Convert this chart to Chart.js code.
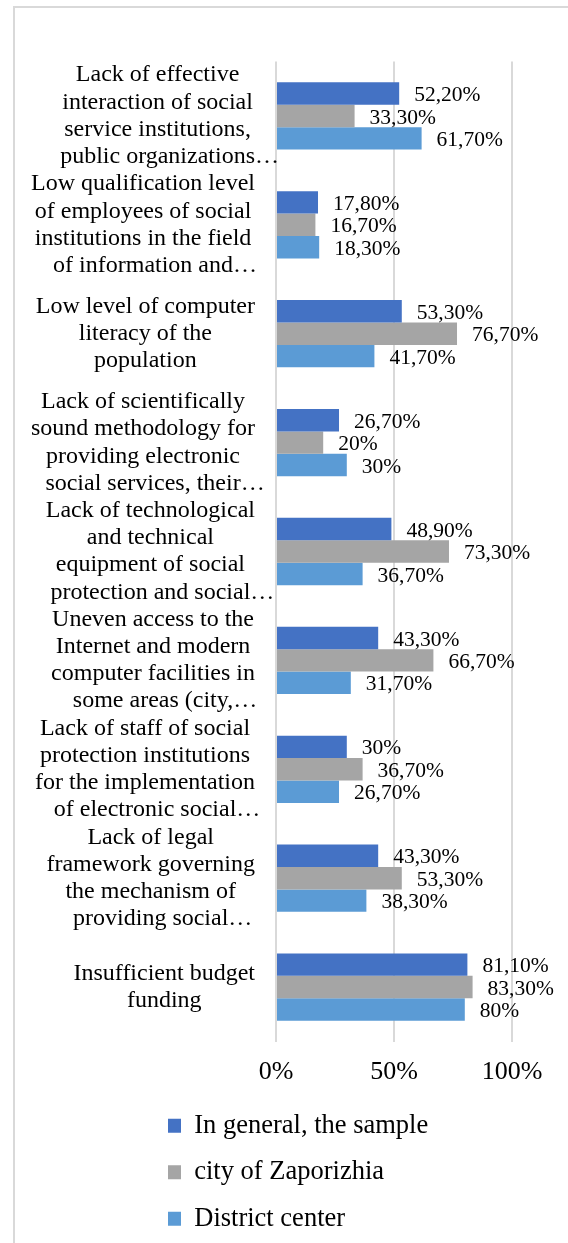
<!DOCTYPE html>
<html>
<head>
<meta charset="utf-8">
<script src="https://cdn.jsdelivr.net/npm/chart.js@4.4.1/dist/chart.umd.min.js"></script>
<style>
  html, body { margin: 0; padding: 0; background: #fff; overflow: hidden; }
  #frame { position: absolute; left: 13px; top: 6px; width: 620px; height: 1300px; box-sizing: border-box; border: 2px solid #d9d9d9; }
  #c { position: absolute; left: 0; top: 0; }
</style>
</head>
<body>
<div id="frame"></div>
<canvas id="c" width="568" height="1243"></canvas>
<script>
const categories = [
  ["Lack of effective", "interaction of social", "service institutions,", "public organizations…"],
  ["Low qualification level", "of employees of social", "institutions in the field", "of information and…"],
  ["Low level of computer", "literacy of the", "population"],
  ["Lack of scientifically", "sound methodology for", "providing electronic", "social services, their…"],
  ["Lack of technological", "and technical", "equipment of social", "protection and social…"],
  ["Uneven access to the", "Internet and modern", "computer facilities in", "some areas (city,…"],
  ["Lack of staff of social", "protection institutions", "for the implementation", "of electronic social…"],
  ["Lack of legal", "framework governing", "the mechanism of", "providing social…"],
  ["Insufficient budget", "funding"]
];
const seriesNames = ["In general, the sample", "city of Zaporizhia", "District center"];
const sampleValues = [52.2, 17.8, 53.3, 26.7, 48.9, 43.3, 30, 43.3, 81.1];
const zaporizhiaValues = [33.3, 16.7, 76.7, 20, 73.3, 66.7, 36.7, 53.3, 83.3];
const districtValues = [61.7, 18.3, 41.7, 30, 36.7, 31.7, 26.7, 38.3, 80];
const xTickValues = [0, 50, 100];

const FONT = '"Liberation Serif", "Times New Roman", serif';
const seriesColors = ['#4472C4', '#A5A5A5', '#5B9BD5'];

function fmt(v) {
  return Number.isInteger(v) ? v + '%' : v.toFixed(2).replace('.', ',') + '%';
}

const categoryLabelsPlugin = {
  id: 'categoryLabels',
  afterDraw(chart) {
    const ctx = chart.ctx;
    const yScale = chart.scales.y;
    ctx.save();
    ctx.font = '24px ' + FONT;
    ctx.fillStyle = '#000';
    ctx.textBaseline = 'middle';
    ctx.textAlign = 'left';
    const R = chart.chartArea.left - 21;
    categories.forEach((lines, i) => {
      const cy = yScale.getPixelForTick(i);
      const widths = lines.map(l => ctx.measureText(l.replace(/…$/, '')).width);
      const W = Math.max(...widths);
      const cx = R - W / 2;
      lines.forEach((l, j) => {
        const ly = cy + (j - (lines.length - 1) / 2) * 27.2;
        ctx.fillText(l, cx - widths[j] / 2, ly);
      });
    });
    ctx.restore();
  }
};

const dataLabelsPlugin = {
  id: 'dataLabels',
  afterDatasetsDraw(chart) {
    const ctx = chart.ctx;
    ctx.save();
    ctx.font = '21.5px ' + FONT;
    ctx.fillStyle = '#000';
    ctx.textBaseline = 'middle';
    ctx.textAlign = 'left';
    chart.data.datasets.forEach((ds, di) => {
      const meta = chart.getDatasetMeta(di);
      meta.data.forEach((el, i) => {
        ctx.fillText(fmt(ds.data[i]), el.x + 15, el.y + 2);
      });
    });
    ctx.restore();
  }
};

new Chart(document.getElementById('c'), {
  type: 'bar',
  data: {
    labels: categories,
    datasets: [
      { label: seriesNames[0], data: sampleValues, backgroundColor: seriesColors[0] },
      { label: seriesNames[1], data: zaporizhiaValues, backgroundColor: seriesColors[1] },
      { label: seriesNames[2], data: districtValues, backgroundColor: seriesColors[2] }
    ]
  },
  options: {
    indexAxis: 'y',
    responsive: false,
    animation: false,
    devicePixelRatio: 1,
    categoryPercentage: 0.618,
    barPercentage: 1,
    layout: { padding: { left: 148, right: 56, top: 61.5, bottom: 1 } },
    scales: {
      x: {
        min: 0, max: 100,
        afterBuildTicks(scale) { scale.ticks = xTickValues.map(v => ({ value: v })); },
        afterFit(scale) { scale.height = 51; },
        grid: { color: '#d9d9d9', lineWidth: 2, drawTicks: false },
        border: { display: false },
        ticks: {
          padding: 15,
          color: '#000',
          font: { family: FONT, size: 26 },
          callback: v => v + '%'
        }
      },
      y: {
        afterFit(scale) { scale.width = 128; },
        grid: { display: false },
        border: { display: false },
        ticks: { display: false }
      }
    },
    plugins: {
      legend: {
        position: 'bottom',
        align: 'start',
        labels: {
          boxWidth: 13,
          boxHeight: 14,
          padding: 20,
          color: '#000',
          font: { family: FONT, size: 26.5 }
        }
      },
      tooltip: { enabled: false }
    }
  },
  plugins: [categoryLabelsPlugin, dataLabelsPlugin]
});
</script>
</body>
</html>
